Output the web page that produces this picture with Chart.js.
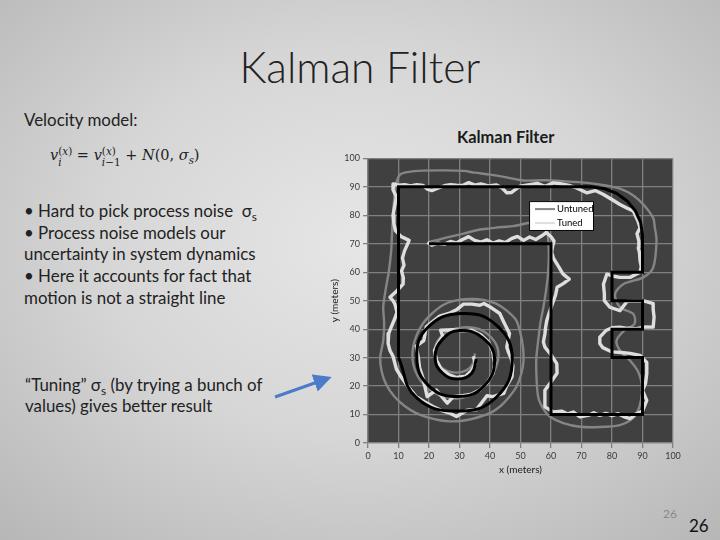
<!DOCTYPE html>
<html>
<head>
<meta charset="utf-8">
<script src="https://cdn.jsdelivr.net/npm/chart.js@4.4.1/dist/chart.umd.min.js"></script>
<style>
body {
    margin: 0; width: 720px; height: 540px; overflow: hidden; position: relative;
    font-family: Lato, "Open Sans", sans-serif; color: #222;
    background: radial-gradient(ellipse 80% 80% at 50% 45%, #e6e6e6 0%, #d6d6d6 45%, #b2b2b2 100%);
}
.abs { position: absolute; white-space: nowrap; }
.sub { position: relative; top: 0.35em; font-size: 0.7em; line-height: 0; }
#titulo { left: 0; width: 720px; top: 41px; text-align: center; font-size: 42.5px; font-weight: 300; }
#velocidad { left: 24px; top: 109px; font-size: 16.9px; }
#formula { left: 50px; top: 146px; font-family: "DejaVu Serif", serif; font-size: 14.5px; }
.ss { display: inline-block; vertical-align: -0.55em; font-size: 0.72em; line-height: 1.05; }
.ss span { display: block; }
#puntos { left: 24px; top: 200px; font-size: 16.9px; line-height: 21.7px; }
#tuning { left: 25px; top: 374px; font-size: 16.9px; line-height: 21px; }
#tituloGrafica { left: 457px; top: 127px; font-size: 16.4px; font-weight: bold; color: #1a1a1a; }
#pag1 { left: 663px; top: 506px; font-size: 12px; color: #8a8a8a; }
#pag2 { left: 689px; top: 515px; font-size: 17px; color: #111; }
#wrap { position: absolute; left: 320px; top: 150px; width: 400px; height: 330px; }
svg { position: absolute; left: 0; top: 0; }
</style>
</head>
<body>
<div class="abs" id="titulo">Kalman Filter</div>
<div class="abs" id="velocidad">Velocity model:</div>
<div class="abs" id="formula"><i>v</i><span class="ss"><span>(<i>x</i>)</span><span><i>i</i></span></span> = <i>v</i><span class="ss"><span>(<i>x</i>)</span><span><i>i</i>−1</span></span> + <i>N</i>(0, <i>σ<span class="sub">s</span></i>)</div>
<div class="abs" id="puntos">• Hard to pick process noise &nbsp;σ<span class="sub">s</span><br>• Process noise models our<br>uncertainty in system dynamics<br>• Here it accounts for fact that<br>motion is not a straight line</div>
<div class="abs" id="tuning">“Tuning” σ<span class="sub">s</span> (by trying a bunch of<br>values) gives better result</div>
<svg width="720" height="540">
    <defs>
        <marker id="punta" markerWidth="6" markerHeight="6" refX="4" refY="3" orient="auto">
            <path d="M0,0 L6,3 L0,6 Z" fill="#4a7cc8"/>
        </marker>
    </defs>
    <line x1="275" y1="397" x2="326" y2="379" stroke="#4a7cc8" stroke-width="3" marker-end="url(#punta)"/>
</svg>
<div class="abs" id="tituloGrafica">Kalman Filter</div>
<div id="wrap"><canvas id="graficaKalman"></canvas></div>
<div class="abs" id="pag1">26</div>
<div class="abs" id="pag2">26</div>

<script>
const nombresSeries = ["Untuned", "Tuned"];
const ticksEje = [0, 10, 20, 30, 40, 50, 60, 70, 80, 90, 100];

const recorridoReal = [
    [20,70],[60,70],[60,10],[90,10],[90,30],[80,30],[80,40],[90,40],[90,50],[80,50],
    [80,60],[90,60],[90,73],[89.4,77.4],[87.7,81.5],[85,85],[81.5,87.7],[77.4,89.4],[73,90],
    [10,90],[10,30]
];

const espiralReal = [
    [10,30],[15.8,16],[29.5,11.2],[42,16],[47.3,29.5],[42,41.5],[30.5,45.5],[19.5,40.5],
    [16,30],[20,20],[29.5,16.3],[38,20],[41.5,29.5],[37.5,37],[30,39.5],[24.5,36.5],
    [22,30],[24.5,24.5],[29.5,22.5],[34,24.5],[35.5,29.5]
];

const sinAjustar = [
    [19.7,70.5],[25,72],[31,73.5],[36.7,75],[40,75.4],[44,75.9],[47.6,76.2],[53,77.4],[56,77.8],[58.5,76],
    [59.1,71],[59.3,66],[59,59.3],[58.3,53],[57.5,47.7],[56.5,42],[55.8,36],[55.2,30],[55.2,24.4],
    [55.8,16.2],[57.5,12],[59.7,9.2],[64,7],[69.5,5.7],[76,5.6],[82.6,6.3],[86,8],[88.1,10.4],
    [89.5,15],[89.8,20],[88.6,25],[85.9,29],[82.6,32.5],[81.5,36],[84,39.5],[87.4,41.9],[87,45.3],
    [82.6,47.7],[81,52.3],[83.7,55.8],[90.3,58.2],[93.5,61.6],[94.6,71],[94,76],[93.5,79.1],
    [90.3,83.8],[87,87],[83,89.2],[78,90.5],[72,91.4],[64,92],[58,92.3],[52,92.2],[49.8,92.4],
    [45,93.4],[40,94.3],[35,95],[31.3,95.6],[25,95.8],[18.1,95.7],[13,95.2],[10.5,94.3],
    [9.2,91],[8.6,86],[8.2,80],[7.8,72],[7.6,67.5],[6.8,60],[5.8,54],[5,47.7],[5.3,42],
    [5,36],[4,30],[4.5,25],[6,20.5],[8.5,16.5],[12,13],[15.8,10.5],[19.5,9],[23.5,8],[27,7.6],
    [31,7.8],[35,8.7],[40,10.5],[43.5,13],[46.4,16.3],[48.8,20],[50.3,24.5],[51,29],[50.8,33.8],
    [50,38.5],[48.6,43.1],[45.5,46.5],[42,49],[37.5,50.4],[33.3,50.6],[28.5,50],[24.6,48.5],
    [21,45.5],[18,42],[16,38],[14.8,33.8],[14.6,29.5],[15.4,25.6],[17.5,21.5],[21,18.2],
    [25,16.2],[29,15.6],[33,16.5],[36.6,18.5],[39.8,22],[42,26.8],[42.8,30.5],[42.3,34],
    [40.5,37],[38,39.2],[35,40.4],[31,40.6],[27,39.6],[24,37.5],[22.2,34.5],[21.8,31],
    [22.8,28],[25,25.8],[28,24.8],[31,25],[33.5,26.5],[34.8,29],[35,31.5]
];

const ajustado = [
    [19.5,70.5],[21,69.5],[23,70.2],[25,69.8],[27,70.8],[29,70.3],[31,71.5],[33,72.5],[35,71.2],
    [37,70.6],[39,71.4],[41,70.2],[43,71],[45,70.4],[47,71.8],[49,72.6],[51,71.2],[53,72.4],
    [55,71.5],[57,72.8],[58.5,74],[60,72.5],[61,71],[60.5,69],[60.2,67],[60.8,65],[62.5,62],
    [63.9,59.4],[66,57.6],[64,56],[62,54.7],[61.5,52],[60.5,49],[59.5,46],[58.6,43],[58.2,40.5],
    [58,38.4],[57.5,35.5],[58,33.7],[60,31],[61.9,27.9],[62,24.5],[59.7,21],[58,18.5],[58,16.2],
    [58,12.7],[60.8,10.9],[63.5,11.2],[65.5,10.2],[67.3,10.9],[69.5,9.2],[72.5,9.8],[74,10.6],
    [76,9.7],[78,10.4],[80,9.6],[82,10.3],[84,9.2],[86,8.6],[87.8,10.2],[90,11.2],[91.4,15],
    [90,18.5],[91,21],[91.4,24.4],[91.4,28.3],[89.2,30.8],[86,31.5],[83,31.8],[80,32],[77,33.5],
    [76,35],[76,37.2],[78,39.5],[80,40.5],[82.6,40.7],[85,40.3],[88,40.2],[91,40.8],[93.5,40.7],
    [93.8,44.2],[93.5,47],[93.5,49],[91,49.8],[88.1,50],[85,49.8],[82.6,46.5],[79.3,47.7],
    [77.5,50],[77.5,52.3],[77.2,55.8],[78.3,59.3],[80.5,58.6],[82.6,58.2],[85.9,58.2],[89.2,60],
    [89.6,62],[89.2,64],[89,67],[88.6,68.6],[88.8,71],[88.2,73.5],[89.2,75.6],[88.5,78],
    [87,81.5],[85,82.5],[82.6,83.8],[80.5,85.2],[77.2,87.3],[74.5,88.7],[71.7,87.9],[68.4,89.6],
    [66,90.5],[63,91.1],[60.8,91.4],[58,90.2],[55.5,91.2],[53,90.8],[49.8,90.2],[48.5,89.2],
    [47,88],[45.5,87.9],[44,89.6],[42,90.7],[39.5,90.3],[37,91],[35,90.6],[33,91.5],[31,90.5],
    [29,90.6],[27,90.8],[25,90.4],[22.5,89.4],[20.9,88.7],[19.5,89.2],[18,90.5],[16,90.8],
    [14,90.3],[12,90.8],[10,90.6],[8.5,91],[8.2,89],[9.3,86.5],[8.8,83.5],[8.2,80],[8.5,77],
    [9,74.6],[10.9,72.5],[13.5,71.2],[12.8,69.5],[12,67.6],[11.3,65],[11.8,62.5],[11,60.5],
    [11.6,58],[11.5,55.8],[9.5,53.5],[7.2,51.2],[8.2,50],[8.8,48.9],[9.5,46],[8.9,44],[7.6,40.7],
    [6.8,38.5],[6.6,34.9],[7.2,32.5],[8.2,30.5],[9.3,26],[11,23],[13,20],[15.8,16.3],[18.5,14.5],
    [21.3,12.8],[24,11.5],[26.5,10.6],[29,9.3],[32.5,11.5],[35.5,11.7],[39,16.6],[41,16.3],
    [44.5,17.4],[45.4,20],[47.2,23.2],[47.5,27],[47,29.5],[46,32],[45.5,33.7],[46.4,38.5],
    [44.5,42.5],[43.2,45.5],[40.5,47.5],[38,49],[36.7,48.4],[34,48.8],[31.3,48.8],[29,46.8],
    [26.5,45.5],[23.5,44.6],[21,42.5],[19.1,40.8],[18.3,36],[15.8,34],[16.5,30],[16.9,26.5],
    [18,22.8],[19.4,16.3],[22.4,18.6],[26,14],[28,16.3],[31,16.6],[34,17.2],[36.6,18.6],[39,21],
    [41,24.5],[41.5,28],[40.8,32.5],[39.5,35.5],[37,38],[34,39.6],[31,39.4],[28,39.8],[23.8,39.6],
    [24.5,37.5],[23,35],[21.8,32.5],[22.5,29],[24,26],[26.5,24],[29,23],[32,23.5],[34,25.5],
    [35.2,28],[34.5,30.5]
];

const aPuntos = arr => arr.map(p => ({ x: p[0], y: p[1] }));

const fondoGrafica = {
    id: "fondoGrafica",
    beforeDraw(chart) {
        const a = chart.chartArea;
        const ctx = chart.ctx;
        ctx.save();
        ctx.fillStyle = "#404040";
        ctx.fillRect(a.left, a.top, a.width, a.height);
        ctx.restore();
    }
};

// leyenda dentro del area, como en la hoja de calculo original
const leyendaInterior = {
    id: "leyendaInterior",
    afterDatasetsDraw(chart) {
        const ctx = chart.ctx;
        const sx = chart.scales.x, sy = chart.scales.y;
        const x1 = sx.getPixelForValue(52.8), x2 = sx.getPixelForValue(74.1);
        const y1 = sy.getPixelForValue(85), y2 = sy.getPixelForValue(74.5);
        ctx.save();
        ctx.fillStyle = "#fff";
        ctx.fillRect(x1, y1, x2 - x1, y2 - y1);
        ctx.strokeStyle = "#000";
        ctx.lineWidth = 1;
        ctx.strokeRect(x1 + 0.5, y1 + 0.5, x2 - x1 - 1, y2 - y1 - 1);
        ctx.font = "9.5px Lato, sans-serif";
        ctx.textBaseline = "middle";
        nombresSeries.forEach((nombre, i) => {
            const ds = chart.data.datasets[i];
            const yy = y1 + 8 + i * 14;
            ctx.strokeStyle = ds.borderColor;
            ctx.lineWidth = 2;
            ctx.beginPath();
            ctx.moveTo(x1 + 6, yy);
            ctx.lineTo(x1 + 26, yy);
            ctx.stroke();
            ctx.fillStyle = "#000";
            ctx.fillText(nombre, x1 + 28, yy);
        });
        ctx.restore();
    }
};

const ejeComun = {
    type: "linear",
    min: 0,
    max: 100,
    afterBuildTicks: s => { s.ticks = ticksEje.map(v => ({ value: v })); },
    grid: { color: "#808080", lineWidth: 1.3, tickLength: 5, tickColor: "#808080" },
    border: { color: "#808080", width: 1.3 },
    ticks: { color: "#3a3a3a", font: { size: 9, family: "Lato" }, padding: 3 }
};

new Chart(document.getElementById("graficaKalman").getContext("2d"), {
    type: "scatter",
    data: {
        datasets: [
            { label: nombresSeries[0], data: aPuntos(sinAjustar), showLine: true, borderColor: "#858585",
              borderWidth: 2.4, pointRadius: 0, tension: 0.3, order: 3 },
            { label: nombresSeries[1], data: aPuntos(ajustado), showLine: true, borderColor: "#dedede",
              borderWidth: 3.4, pointRadius: 0, tension: 0, order: 2, borderJoinStyle: "round" },
            { label: "", data: aPuntos(recorridoReal), showLine: true, borderColor: "#000",
              borderWidth: 3, pointRadius: 0, tension: 0, order: 1 },
            { label: "", data: aPuntos(espiralReal), showLine: true, borderColor: "#000",
              borderWidth: 3, pointRadius: 0, tension: 0.45, order: 1 }
        ]
    },
    options: {
        responsive: true,
        maintainAspectRatio: false,
        animation: false,
        layout: { padding: { top: 7, right: 47, bottom: 0, left: 0 } },
        plugins: { legend: { display: false }, tooltip: { enabled: false } },
        scales: {
            x: Object.assign({}, ejeComun, {
                afterFit: s => { s.height = 37; },
                title: { display: true, text: "x (meters)", color: "#1a1a1a", font: { size: 10, family: "Lato" }, padding: { top: 0, bottom: 4 } }
            }),
            y: Object.assign({}, ejeComun, {
                afterFit: s => { s.width = 48; },
                title: { display: true, text: "y (meters)", color: "#1a1a1a", font: { size: 10, family: "Lato" }, padding: { top: 9, bottom: 0 } }
            })
        }
    },
    plugins: [fondoGrafica, leyendaInterior]
});
</script>
</body>
</html>
